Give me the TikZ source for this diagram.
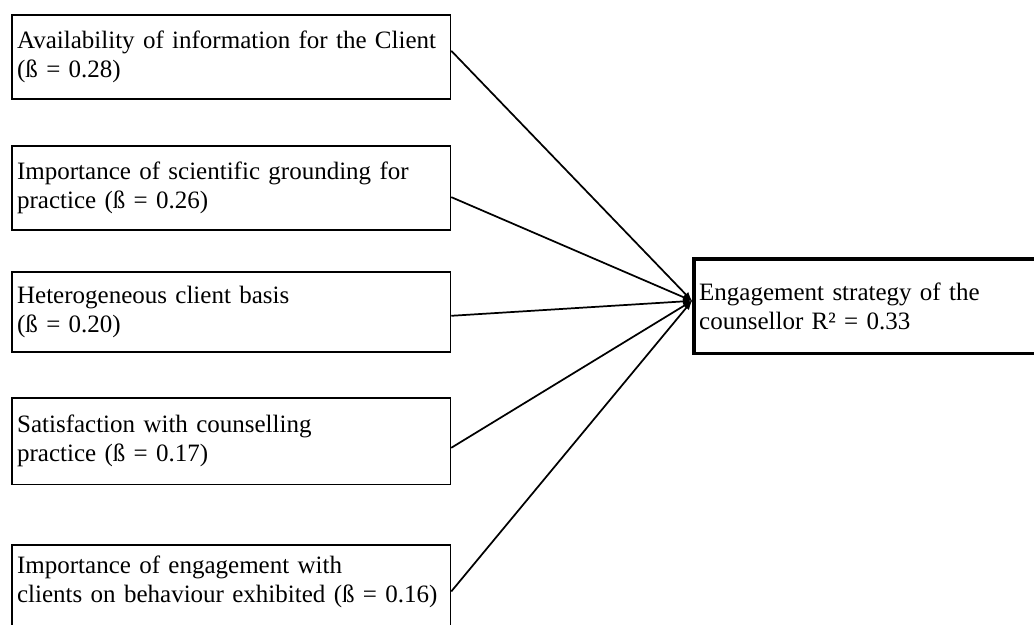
\documentclass[tikz,border=0pt]{standalone}
\usepackage{fontspec}
\setmainfont{Liberation Serif}
\begin{document}
\begin{tikzpicture}[x=0.75pt,y=-0.75pt,
		factor/.style={draw, line width=1.2pt, anchor=north west, align=left, text width=321pt, inner xsep=4pt, inner ysep=0pt, font=\fontsize{18.75pt}{21.75pt}\selectfont},
		outcome/.style={draw, line width=2.8pt, anchor=north west, align=left, text width=262pt, inner xsep=4pt, inner ysep=0pt, minimum height=71pt, font=\fontsize{18.75pt}{21.75pt}\selectfont},
		link/.style={line width=1.3pt, -latex}]
		\useasboundingbox (0,0) rectangle (1034,624);
		\clip (0,0) rectangle (1034,624);
		\node [factor, minimum height=63pt] (avail) at (11,14) {Availability of information for the Client\\(ß = 0.28)};
		\node [factor, minimum height=63pt] (science) at (11,145) {Importance of scientific grounding for\\practice (ß = 0.26)};
		\node [factor, minimum height=60pt] (hetero) at (11,271) {Heterogeneous client basis\\(ß = 0.20)};
		\node [factor, minimum height=65pt] (satis) at (11,397) {Satisfaction with counselling\\practice (ß = 0.17)};
		\node [factor, minimum height=74pt] (engage) at (11,544) {Importance of engagement with\\clients on behaviour exhibited (ß = 0.16)\\ \mbox{}};
		\node [outcome] (strategy) at (692,257) {Engagement strategy of the\\counsellor R² = 0.33};
		\coordinate (hub) at ([yshift=4pt]strategy.west);
		\draw [link] ([yshift=4.5pt]avail.east) -- (hub);
		\draw [link] ([yshift=-7pt]science.east) -- (hub);
		\draw [link] ([yshift=-3pt]hetero.east) -- (hub);
		\draw [link] ([yshift=-5pt]satis.east) -- (hub);
		\draw [link] ([yshift=2pt]engage.east) -- (hub);
	\end{tikzpicture}
\end{document}
